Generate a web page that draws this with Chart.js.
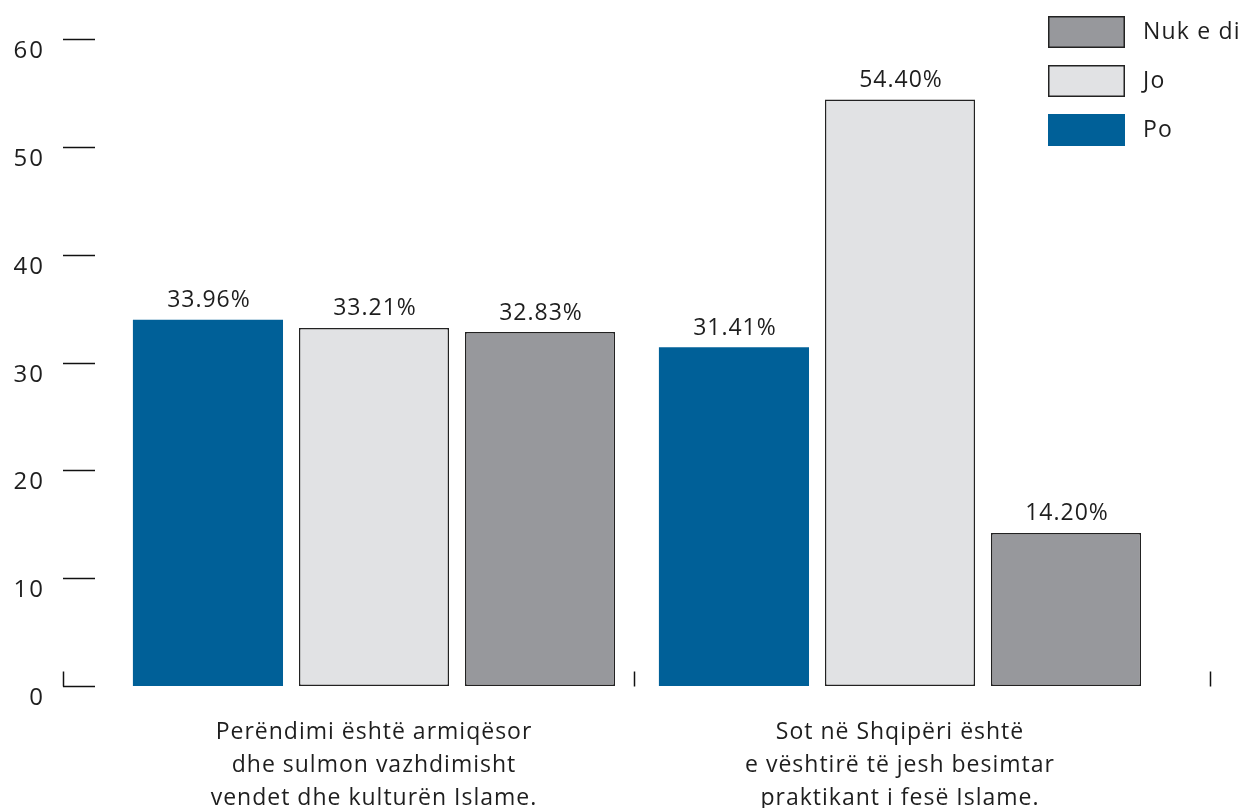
<!DOCTYPE html>
<html lang="sq">
<head>
<meta charset="UTF-8">
<title>Perëndimi dhe Islami</title>
<script src="https://cdn.jsdelivr.net/npm/chart.js"></script>
<style>
  body { margin: 0; background: #fff; }
  #wrap { width: 1243px; height: 808px; position: relative; }
</style>
</head>
<body>
<div id="wrap"><canvas id="chart"></canvas></div>
<script>
// categories (multi-line labels)
const categories = [
  ['Perëndimi është armiqësor', 'dhe sulmon vazhdimisht', 'vendet dhe kulturën Islame.'],
  ['Sot në Shqipëri është', 'e vështirë të jesh besimtar', 'praktikant i fesë Islame.']
];
const poValues = [33.96, 31.41];
const joValues = [33.21, 54.40];
const nukEDiValues = [32.83, 14.20];
const yTicks = [0, 10, 20, 30, 40, 50, 60];

const FONT = '"Open Sans", sans-serif';
const TEXT = '#1e1e1e';

// wider tracking to get closer to the original geometric face
const tracking = {
  id: 'tracking',
  beforeDraw(chart) { chart.ctx.letterSpacing = '1px'; }
};

// y axis drawn by hand: short dashes left of the plot + labels below-left
const yAxisPlugin = {
  id: 'yAxisMarks',
  afterDraw(chart) {
    const ctx = chart.ctx, y = chart.scales.y;
    ctx.save();
    ctx.strokeStyle = '#111';
    ctx.lineWidth = 1.5;
    ctx.fillStyle = TEXT;
    ctx.font = '24px ' + FONT;
    ctx.letterSpacing = '2px';
    ctx.textAlign = 'right';
    ctx.textBaseline = 'middle';
    yTicks.forEach(v => {
      const py = Math.round(y.getPixelForValue(v)) + 0.5;
      ctx.beginPath();
      ctx.moveTo(63, py);
      ctx.lineTo(95, py);
      ctx.stroke();
      ctx.fillText(String(v), 45, py + 12);
    });
    // category boundary ticks
    const base = Math.round(y.getPixelForValue(0)) + 0.5;
    const x = chart.scales.x;
    const mid = (x.getPixelForValue(0) + x.getPixelForValue(1)) / 2 - 3;
    [63, mid, 1210].forEach(px => {
      ctx.beginPath();
      ctx.moveTo(Math.round(px) + 0.5, base - 15);
      ctx.lineTo(Math.round(px) + 0.5, base);
      ctx.stroke();
    });
    ctx.restore();
  }
};

// value labels above the bars
const valueLabels = {
  id: 'valueLabels',
  afterDatasetsDraw(chart) {
    const ctx = chart.ctx;
    ctx.save();
    ctx.fillStyle = TEXT;
    ctx.font = '23px ' + FONT;
    ctx.letterSpacing = '1px';
    ctx.textAlign = 'center';
    ctx.textBaseline = 'middle';
    chart.data.datasets.forEach((ds, i) => {
      chart.getDatasetMeta(i).data.forEach((bar, j) => {
        ctx.fillText(ds.data[j].toFixed(2) + '%', bar.x + 1, bar.y - 19);
      });
    });
    ctx.restore();
  }
};

// legend in the top-right corner, reversed order
const boxLegend = {
  id: 'boxLegend',
  afterDraw(chart) {
    const ctx = chart.ctx;
    const sets = chart.data.datasets.slice().reverse();
    ctx.save();
    ctx.font = '23px ' + FONT;
    ctx.letterSpacing = '1.2px';
    ctx.textBaseline = 'middle';
    ctx.textAlign = 'left';
    sets.forEach((ds, i) => {
      const top = 16 + i * 49;
      ctx.fillStyle = ds.backgroundColor;
      ctx.fillRect(1048, top, 77, 32);
      if (ds.borderWidth) {
        ctx.strokeStyle = ds.borderColor;
        ctx.lineWidth = 1.5;
        ctx.strokeRect(1048.75, top + 0.75, 75.5, 30.5);
      }
      ctx.fillStyle = TEXT;
      ctx.fillText(ds.label, 1143, top + 16);
    });
    ctx.restore();
  }
};

new Chart(document.getElementById('chart'), {
  type: 'bar',
  data: {
    labels: categories,
    datasets: [
      { label: 'Po', data: poValues, backgroundColor: '#006098', borderWidth: 0 },
      { label: 'Jo', data: joValues, backgroundColor: '#e1e2e4', borderColor: '#222', borderWidth: 1.5, borderSkipped: false },
      { label: 'Nuk e di', data: nukEDiValues, backgroundColor: '#97989c', borderColor: '#222', borderWidth: 1.5, borderSkipped: false }
    ]
  },
  options: {
    responsive: true,
    maintainAspectRatio: false,
    animation: false,
    categoryPercentage: 0.947,
    barPercentage: 0.904,
    layout: { padding: { left: 111, right: 80, top: 39, bottom: 0 } },
    plugins: { legend: { display: false }, tooltip: { enabled: false } },
    scales: {
      y: { display: false, min: 0, max: 60 },
      x: {
        grid: { display: false, drawTicks: false },
        border: { display: false },
        ticks: {
          color: TEXT,
          padding: 30,
          font: { family: FONT, size: 23, lineHeight: '33px' },
          maxRotation: 0
        },
        afterFit(axis) { axis.height = 122; }
      }
    }
  },
  plugins: [tracking, yAxisPlugin, valueLabels, boxLegend]
});
</script>
</body>
</html>
